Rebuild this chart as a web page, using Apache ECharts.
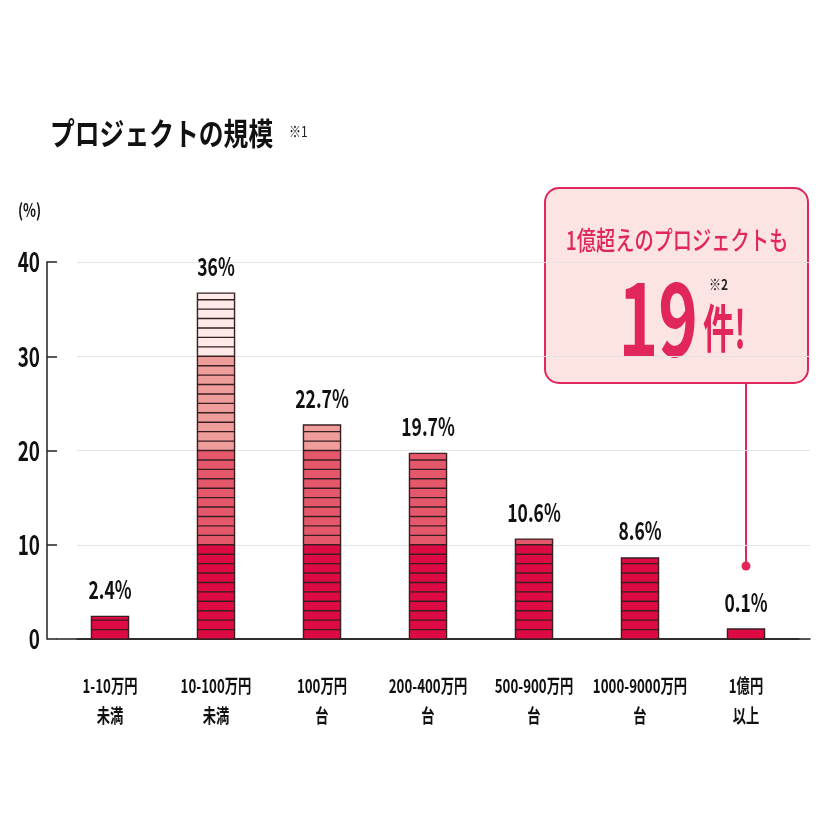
<!DOCTYPE html>
<html>
<head>
<meta charset="utf-8">
<script src="https://cdn.jsdelivr.net/npm/echarts@6/dist/echarts.min.js"></script>
<style>
  html, body { margin: 0; padding: 0; background: #fff; }
  #main { width: 828px; height: 828px; }
</style>
</head>
<body>
<div id="main"></div>
<script>
// データ
var categories = ['1-10万円\n未満', '10-100万円\n未満', '100万円\n台', '200-400万円\n台', '500-900万円\n台', '1000-9000万円\n台', '1億円\n以上'];
var values = [2.4, 36.7, 22.7, 19.7, 10.6, 8.6, 0.1];
var valueLabels = ['2.4%', '36%', '22.7%', '19.7%', '10.6%', '8.6%', '0.1%'];
var yTicks = [0, 10, 20, 30, 40];

var FONT = '"Noto Sans CJK JP", "Noto Sans", sans-serif';
var RED = '#e0265a';
var SQUEEZE = 0.7; // 細身の書体の代わりに横幅を縮める
// 10%ごとの帯の色
var bandColors = ['#dd0a43', '#e5576b', '#ee9d9b', '#fde9e8'];
var stripeColor = '#3a1f22';

var myChart = echarts.init(document.getElementById('main'));

function renderBar(params, api) {
    var idx = api.value(0);
    var v = api.value(1);
    var base = api.coord([idx, 0]);
    var unit = base[1] - api.coord([idx, 1])[1];
    var w = api.size([1, 0])[0] * 0.35;
    var x = base[0] - w / 2;
    var h = Math.max(v * unit, 10);
    var topY = base[1] - h;
    var children = [];
    // 帯ごとの塗り
    for (var b = 0; b < bandColors.length; b++) {
        var lo = b * 10;
        if (v <= lo && b > 0) break;
        var y1 = base[1] - lo * unit;
        var y2 = base[1] - Math.min(v, lo + 10) * unit;
        if (b == 0 && v < 10) y2 = topY;
        children.push({
            type: 'rect',
            shape: { x: x, y: y2, width: w, height: y1 - y2 },
            style: { fill: bandColors[b] }
        });
    }
    // 1%ごとの横線
    for (var k = 1; k < v; k++) {
        var yy = base[1] - k * unit;
        children.push({
            type: 'line',
            shape: { x1: x, y1: yy, x2: x + w, y2: yy },
            style: { stroke: stripeColor, lineWidth: 1.4 }
        });
    }
    children.push({
        type: 'rect',
        shape: { x: x, y: topY, width: w, height: h },
        style: { fill: null, stroke: stripeColor, lineWidth: 1.4 }
    });
    // 値ラベル
    children.push({
        type: 'text',
        x: base[0],
        y: topY - 27,
        scaleX: SQUEEZE,
        style: {
            text: valueLabels[idx],
            align: 'center',
            verticalAlign: 'middle',
            font: 'bold 25px ' + FONT,
            fill: '#111'
        }
    });
    // カテゴリラベル
    children.push({
        type: 'text',
        x: base[0],
        y: base[1] + 32,
        scaleX: SQUEEZE,
        style: {
            text: categories[idx],
            align: 'center',
            verticalAlign: 'top',
            lineHeight: 30,
            font: 'bold 19px ' + FONT,
            fill: '#111'
        }
    });
    return { type: 'group', children: children };
}

function renderTick(params, api) {
    var t = api.value(1);
    var p = api.coord([0, t]);
    return {
        type: 'text',
        x: params.coordSys.x - 17,
        y: p[1],
        scaleX: SQUEEZE,
        style: {
            text: String(t),
            align: 'right',
            verticalAlign: 'middle',
            font: 'bold 27px ' + FONT,
            fill: '#111'
        }
    };
}

var option = {
    backgroundColor: '#fff',
    animation: false,
    grid: [
        { left: 57, right: 29, top: 262, bottom: 189 },
        { left: 77, right: 18, top: 262, bottom: 189 }
    ],
    xAxis: [{
        type: 'category',
        gridIndex: 0,
        data: categories,
        axisLine: { lineStyle: { color: '#222', width: 1.5 } },
        axisTick: { show: false },
        axisLabel: { show: false }
    }, {
        type: 'category',
        gridIndex: 1,
        data: categories,
        axisLine: { show: true, lineStyle: { color: '#222', width: 1.5 } },
        axisTick: { show: false },
        axisLabel: { show: false }
    }],
    yAxis: [{
        type: 'value',
        gridIndex: 0,
        min: 0,
        max: 40,
        interval: 10,
        offset: 10,
        axisLine: { show: true, lineStyle: { color: '#222', width: 1.5 } },
        axisTick: { show: true, inside: true, length: 10, lineStyle: { color: '#222', width: 1.5 } },
        splitLine: { show: false },
        axisLabel: { show: false }
    }, {
        type: 'value',
        gridIndex: 1,
        min: 0,
        max: 40,
        interval: 10,
        axisLine: { show: false },
        axisTick: { show: false },
        axisLabel: { show: false },
        splitLine: { lineStyle: { color: '#e3e3e3', width: 1.2 } }
    }],
    graphic: [
        {
            type: 'text',
            x: 50,
            y: 133,
            scaleX: 0.8,
            style: {
                text: 'プロジェクトの規模',
                verticalAlign: 'middle',
                font: 'bold 31px ' + FONT,
                fill: '#111'
            }
        },
        {
            type: 'text',
            x: 289,
            y: 131,
            scaleX: 0.8,
            style: { text: '※1', verticalAlign: 'middle', font: '15px ' + FONT, fill: '#222' }
        },
        {
            type: 'text',
            x: 18,
            y: 210,
            scaleX: 0.75,
            style: { text: '(%)', verticalAlign: 'middle', font: 'bold 18px ' + FONT, fill: '#111' }
        },
        {
            type: 'line',
            shape: { x1: 746, y1: 383, x2: 746, y2: 566 },
            style: { stroke: RED, lineWidth: 2 }
        },
        {
            type: 'circle',
            shape: { cx: 746, cy: 566, r: 4.5 },
            style: { fill: RED }
        },
        {
            type: 'rect',
            shape: { x: 545, y: 188, width: 263, height: 195, r: 14 },
            style: { fill: '#fce4e3', stroke: RED, lineWidth: 2 }
        },
        {
            type: 'text',
            x: 677,
            y: 240,
            scaleX: 0.74,
            style: {
                text: '1億超えのプロジェクトも',
                align: 'center',
                verticalAlign: 'middle',
                font: '500 26px ' + FONT,
                fill: RED
            }
        },
        {
            type: 'text',
            x: 698,
            y: 318,
            scaleX: 0.66,
            style: {
                text: '19',
                align: 'right',
                verticalAlign: 'middle',
                font: 'bold 102px ' + FONT,
                fill: RED
            }
        },
        {
            type: 'text',
            x: 703,
            y: 328,
            scaleX: 0.6,
            style: {
                text: '件!',
                align: 'left',
                verticalAlign: 'middle',
                font: 'bold 52px ' + FONT,
                fill: RED
            }
        },
        {
            type: 'text',
            x: 709,
            y: 284,
            scaleX: 0.8,
            style: {
                text: '※2',
                verticalAlign: 'middle',
                font: 'bold 15px ' + FONT,
                fill: '#222'
            }
        }
    ],
    series: [{
        type: 'custom',
        xAxisIndex: 0,
        yAxisIndex: 0,
        renderItem: renderBar,
        encode: { x: 0, y: 1 },
        data: values.map(function (v, i) { return [i, v]; }),
        z: 5
    }, {
        type: 'custom',
        xAxisIndex: 0,
        yAxisIndex: 0,
        renderItem: renderTick,
        encode: { x: 0, y: 1 },
        data: yTicks.map(function (t) { return [0, t]; }),
        silent: true,
        z: 5
    }]
};

myChart.setOption(option);
</script>
</body>
</html>
